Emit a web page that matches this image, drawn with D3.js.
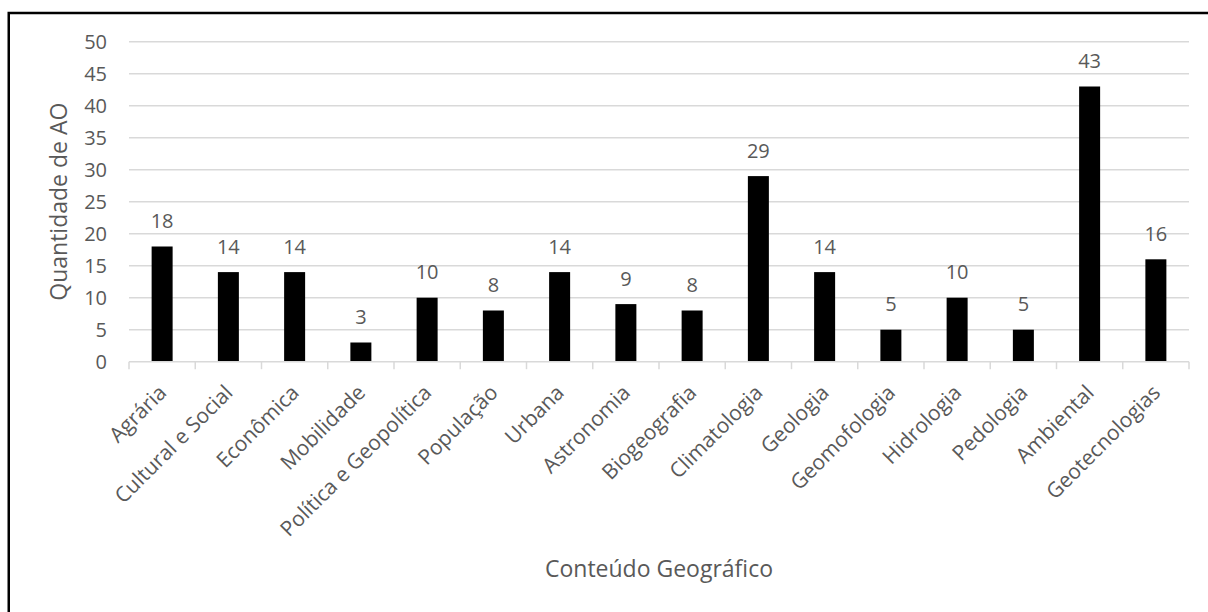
<!DOCTYPE html>
<html>
<head>
<meta charset="utf-8">
<script src="https://cdn.jsdelivr.net/npm/d3@7"></script>
<style>
  html, body { margin: 0; padding: 0; background: #fff; overflow: hidden; }
  svg { display: block; overflow: hidden; }
  text { font-family: "Open Sans", "Noto Sans", sans-serif; fill: #595959; }
</style>
</head>
<body>
<svg id="chart" width="1208" height="612"></svg>
<script>
const categories = ["Agrária", "Cultural e Social", "Econômica", "Mobilidade", "Política e Geopolítica",
  "População", "Urbana", "Astronomia", "Biogeografia", "Climatologia", "Geologia",
  "Geomofologia", "Hidrologia", "Pedologia", "Ambiental", "Geotecnologias"];
const values = [18, 14, 14, 3, 10, 8, 14, 9, 8, 29, 14, 5, 10, 5, 43, 16];
const yTicks = [0, 5, 10, 15, 20, 25, 30, 35, 40, 45, 50];
const xTitle = "Conteúdo Geográfico";
const yTitle = "Quantidade de AO";

const svg = d3.select("#chart");
const plotLeft = 129, plotRight = 1189, plotTop = 41.7, plotBottom = 361.7;

// outer border (chart frame, only left and top visible in the crop)
svg.append("path")
  .attr("d", "M8.75,612 L8.75,13 L1208,13")
  .attr("fill", "none").attr("stroke", "#000").attr("stroke-width", 2.5);

const x = d3.scaleBand().domain(categories).range([plotLeft, plotRight]).paddingInner(0).paddingOuter(0);
const y = d3.scaleLinear().domain([0, 50]).range([plotBottom, plotTop]);

// gridlines
svg.append("g").selectAll("line")
  .data(yTicks.filter(d => d > 0))
  .join("line")
  .attr("x1", plotLeft).attr("x2", plotRight)
  .attr("y1", d => y(d)).attr("y2", d => y(d))
  .attr("stroke", "#d9d9d9").attr("stroke-width", 1.5);

// bars
const bw = 21;
svg.append("g").selectAll("rect")
  .data(categories)
  .join("rect")
  .attr("x", (d) => x(d) + x.bandwidth() / 2 - bw / 2)
  .attr("width", bw)
  .attr("y", (d, i) => y(values[i]))
  .attr("height", (d, i) => y(0) - y(values[i]))
  .attr("fill", "#000");

// x axis line and ticks
const xAxisG = svg.append("g");
xAxisG.append("line")
  .attr("x1", plotLeft).attr("x2", plotRight)
  .attr("y1", plotBottom).attr("y2", plotBottom)
  .attr("stroke", "#d9d9d9").attr("stroke-width", 1.5);
const boundaries = categories.map(d => x(d)).concat([plotRight]);
xAxisG.selectAll("line.tick")
  .data(boundaries)
  .join("line")
  .attr("class", "tick")
  .attr("x1", d => d).attr("x2", d => d)
  .attr("y1", plotBottom).attr("y2", plotBottom + 7.5)
  .attr("stroke", "#d9d9d9").attr("stroke-width", 1.5);

// x labels
xAxisG.selectAll("text")
  .data(categories)
  .join("text")
  .attr("transform", d => `translate(${x(d) + x.bandwidth() / 2 + 0.5},${plotBottom + 27}) rotate(-45)`)
  .attr("text-anchor", "end")
  .attr("dy", "0.35em")
  .style("font-size", "21px")
  .text(d => d);

// y tick labels
svg.append("g").selectAll("text")
  .data(yTicks)
  .join("text")
  .attr("x", 107)
  .attr("y", d => y(d))
  .attr("dy", "0.35em")
  .attr("text-anchor", "end")
  .style("font-size", "20px")
  .text(d => d);

// data labels
svg.append("g").selectAll("text")
  .data(categories)
  .join("text")
  .attr("x", d => x(d) + x.bandwidth() / 2)
  .attr("y", (d, i) => y(values[i]) - 18.5)
  .attr("text-anchor", "middle")
  .style("font-size", "20px")
  .text((d, i) => values[i]);

// axis titles
svg.append("text")
  .attr("x", (plotLeft + plotRight) / 2)
  .attr("y", 577)
  .attr("text-anchor", "middle")
  .style("font-size", "23px")
  .text(xTitle);

svg.append("text")
  .attr("transform", `translate(67,${(plotTop + plotBottom) / 2}) rotate(-90)`)
  .attr("text-anchor", "middle")
  .style("font-size", "23px")
  .text(yTitle);
</script>
</body>
</html>
